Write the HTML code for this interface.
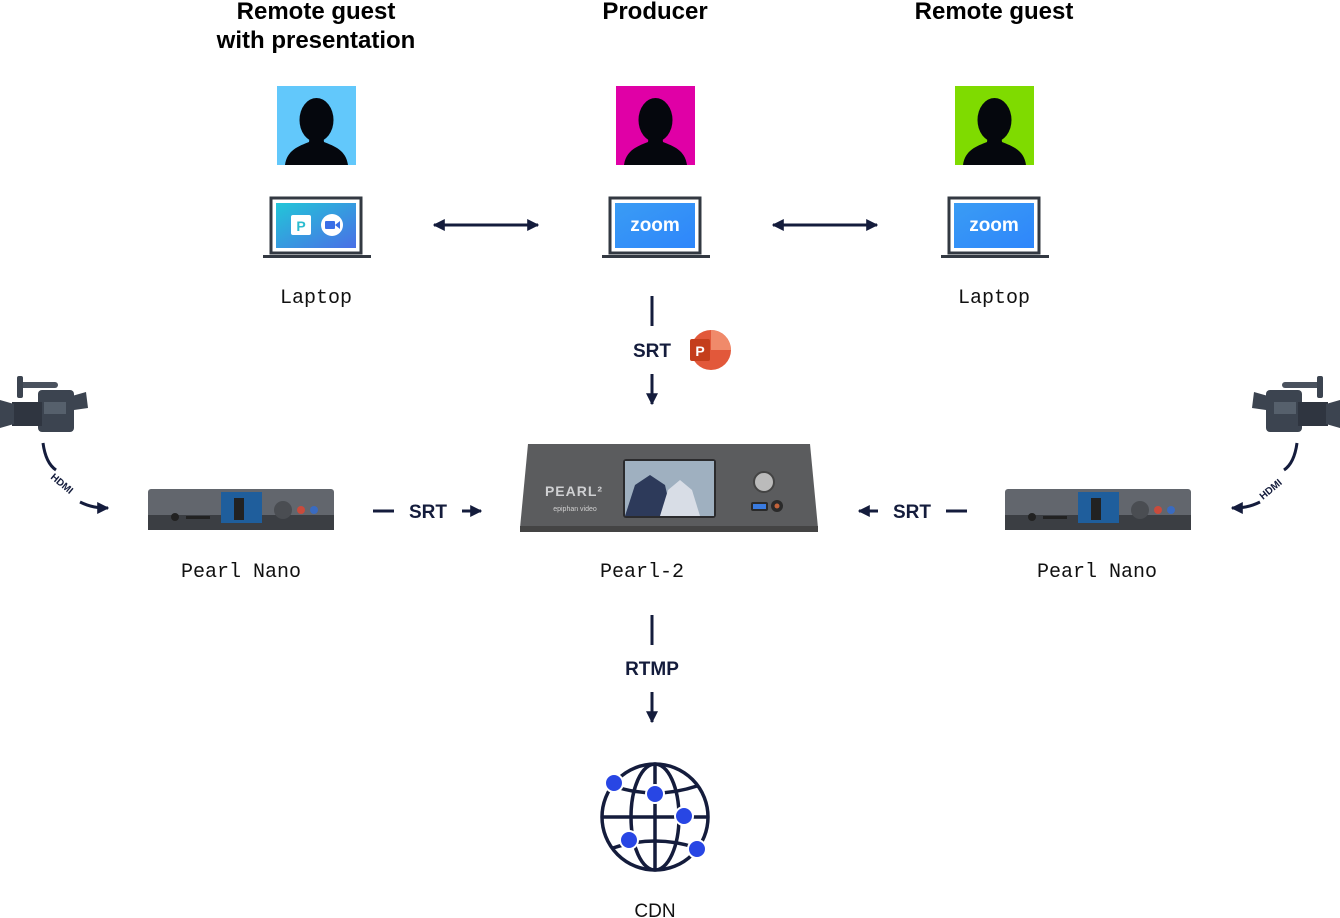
<!DOCTYPE html>
<html><head><meta charset="utf-8"><style>
html,body{margin:0;padding:0;background:#fff;}
svg{display:block}
.t{font-family:"Liberation Sans",sans-serif;font-weight:bold;font-size:24px;fill:#000;text-anchor:middle}
.m{font-family:"Liberation Mono",monospace;font-size:20px;fill:#111;text-anchor:middle}
.s{font-family:"Liberation Sans",sans-serif;font-weight:bold;font-size:19px;fill:#141c3c;text-anchor:middle}
</style></head><body>
<svg width="1340" height="918" viewBox="0 0 1340 918" xmlns="http://www.w3.org/2000/svg">
<defs>
<marker id="ah" viewBox="0 0 10 10" refX="9" refY="5" markerWidth="4" markerHeight="4" orient="auto-start-reverse"><path d="M0,0 L10,5 L0,10 z" fill="#141c3c"/></marker>
<linearGradient id="g1" x1="0" y1="0" x2="1" y2="1"><stop offset="0" stop-color="#22c6d8"/><stop offset="1" stop-color="#4a6fe6"/></linearGradient>
<linearGradient id="g2" x1="0" y1="0" x2="1" y2="1"><stop offset="0" stop-color="#3a9cf4"/><stop offset="1" stop-color="#2e86fb"/></linearGradient>
<g id="person"><ellipse cx="39.5" cy="34" rx="17" ry="22" fill="#05070d"/><path d="M8,79 C10,64 22,60 32,56 L33,48 L46,48 L47,56 C57,60 69,64 71,79 Z" fill="#05070d"/></g>
<g id="cam"><rect x="38" y="16" width="36" height="42" rx="4" fill="#3c4450"/><rect x="12" y="28" width="30" height="24" fill="#2f3540"/><path d="M0,26 L14,30 L14,50 L0,54 Z" fill="#3c4450"/><rect x="18" y="8" width="40" height="6" rx="3" fill="#4a525e"/><rect x="17" y="2" width="6" height="22" rx="2" fill="#3c4450"/><path d="M72,22 L86,18 L88,34 L74,36 Z" fill="#3c4450"/><rect x="44" y="28" width="22" height="12" fill="#56606c"/></g>
<g id="nano"><rect x="0" y="0" width="186" height="34" rx="3" fill="#62666d"/><rect x="0" y="26" width="186" height="15" fill="#3b3e43"/><rect x="73" y="3" width="41" height="31" fill="#1f5e9c"/><rect x="86" y="9" width="10" height="22" fill="#222"/><circle cx="27" cy="28" r="4" fill="#222"/><rect x="38" y="27" width="24" height="3" fill="#222"/><circle cx="135" cy="21" r="9" fill="#4a4d52"/><circle cx="153" cy="21" r="4" fill="#c94b3c"/><circle cx="166" cy="21" r="4" fill="#3a6bc0"/></g>
</defs>

<text class="t" x="316" y="19">Remote guest</text>
<text class="t" x="316" y="48">with presentation</text>
<text class="t" x="655" y="19">Producer</text>
<text class="t" x="994" y="19">Remote guest</text>

<rect x="277" y="86" width="79" height="79" fill="#62c8fb"/><use href="#person" x="277" y="86"/>
<rect x="616" y="86" width="79" height="79" fill="#e000a6"/><use href="#person" x="616" y="86"/>
<rect x="955" y="86" width="79" height="79" fill="#7fdb00"/><use href="#person" x="955" y="86"/>

<rect x="271" y="198" width="90" height="55" fill="#fff" stroke="#333942" stroke-width="3"/>
<rect x="276" y="203" width="80" height="45" fill="url(#g1)"/>
<rect x="263" y="255" width="108" height="3" fill="#333942"/>
<rect x="291" y="215" width="20" height="20" rx="2" fill="#fff"/><text x="301" y="231" font-family="Liberation Sans" font-weight="bold" font-size="14" fill="#2bbccf" text-anchor="middle">P</text>
<circle cx="332" cy="225" r="11" fill="#fff"/><rect x="325" y="221" width="10" height="8" rx="1" fill="#3a6fe6"/><path d="M335,225 L340,221 L340,229Z" fill="#3a6fe6"/>

<rect x="610" y="198" width="90" height="55" fill="#fff" stroke="#333942" stroke-width="3"/>
<rect x="615" y="203" width="80" height="45" fill="url(#g2)"/>
<rect x="602" y="255" width="108" height="3" fill="#333942"/>
<text x="655" y="231" font-family="Liberation Sans" font-weight="bold" font-size="19" fill="#fff" text-anchor="middle">zoom</text>

<rect x="949" y="198" width="90" height="55" fill="#fff" stroke="#333942" stroke-width="3"/>
<rect x="954" y="203" width="80" height="45" fill="url(#g2)"/>
<rect x="941" y="255" width="108" height="3" fill="#333942"/>
<text x="994" y="231" font-family="Liberation Sans" font-weight="bold" font-size="19" fill="#fff" text-anchor="middle">zoom</text>

<text class="m" x="316" y="303">Laptop</text>
<text class="m" x="994" y="303">Laptop</text>

<g stroke="#141c3c" stroke-width="3" fill="none">
<line x1="434" y1="225" x2="538" y2="225" marker-start="url(#ah)" marker-end="url(#ah)"/>
<line x1="773" y1="225" x2="877" y2="225" marker-start="url(#ah)" marker-end="url(#ah)"/>
<line x1="652" y1="296" x2="652" y2="326"/>
<line x1="652" y1="374" x2="652" y2="404" marker-end="url(#ah)"/>
<line x1="373" y1="511" x2="394" y2="511"/>
<line x1="462" y1="511" x2="481" y2="511" marker-end="url(#ah)"/>
<line x1="878" y1="511" x2="859" y2="511" marker-end="url(#ah)"/>
<line x1="946" y1="511" x2="967" y2="511"/>
<line x1="652" y1="615" x2="652" y2="645"/>
<line x1="652" y1="692" x2="652" y2="722" marker-end="url(#ah)"/>
<path d="M43,443 C45,458 50,466 56,470"/>
<path d="M80,502 C90,507 98,508 108,508" marker-end="url(#ah)"/>
<path d="M1297,443 C1295,458 1290,466 1284,470"/>
<path d="M1260,502 C1250,507 1242,508 1232,508" marker-end="url(#ah)"/>
</g>
<text x="0" y="0" font-family="Liberation Sans" font-weight="bold" font-size="10" fill="#141c3c" transform="translate(50,478) rotate(40)">HDMI</text>
<text x="0" y="0" font-family="Liberation Sans" font-weight="bold" font-size="10" fill="#141c3c" transform="translate(1263,500) rotate(-40)">HDMI</text>

<text class="s" x="652" y="357">SRT</text>
<circle cx="711" cy="350" r="20" fill="#e2583a"/><path d="M711,330 A20,20 0 0 1 731,350 L711,350Z" fill="#f08a6a"/>
<rect x="690" y="339" width="20" height="22" rx="2" fill="#c43e1c"/><text x="700" y="356" font-family="Liberation Sans" font-weight="bold" font-size="14" fill="#fff" text-anchor="middle">P</text>

<text class="s" x="428" y="518">SRT</text>
<text class="s" x="912" y="518">SRT</text>
<text class="s" x="652" y="675">RTMP</text>

<use href="#cam" x="0" y="374"/>
<use href="#cam" transform="translate(1340,374) scale(-1,1)"/>

<use href="#nano" x="148" y="489"/>
<use href="#nano" x="1005" y="489"/>
<text class="m" x="241" y="577">Pearl Nano</text>
<text class="m" x="1097" y="577">Pearl Nano</text>

<path d="M528,444 L810,444 L818,528 L520,528 Z" fill="#5b5c5e"/>
<rect x="520" y="526" width="298" height="6" fill="#444"/>
<rect x="623" y="459" width="93" height="59" rx="3" fill="#2b2b2d"/>
<rect x="625" y="461" width="89" height="55" fill="#9fb0c0"/>
<path d="M625,516 L635,485 L650,475 L665,485 L672,516Z" fill="#2d3a5a"/>
<path d="M660,516 L668,490 L680,480 L692,490 L700,516Z" fill="#d8dde6"/>
<text x="574" y="496" font-family="Liberation Sans" font-weight="bold" font-size="14" fill="#cfd0d2" text-anchor="middle" letter-spacing="1">PEARL²</text>
<text x="575" y="511" font-family="Liberation Sans" font-size="7" fill="#d0d0d0" text-anchor="middle">epiphan video</text>
<circle cx="764" cy="482" r="10" fill="#bbb" stroke="#444" stroke-width="2"/>
<rect x="751" y="502" width="17" height="9" rx="2" fill="#2a2a2a"/><rect x="753" y="504" width="13" height="5" fill="#3a7be0"/>
<circle cx="777" cy="506" r="6" fill="#2a2a2a"/><circle cx="777" cy="506" r="2.5" fill="#c2623a"/>
<text class="m" x="642" y="577">Pearl-2</text>

<g stroke="#141c3c" stroke-width="3.5" fill="none">
<circle cx="655" cy="817" r="53"/>
<ellipse cx="655" cy="817" rx="24" ry="53"/>
<line x1="655" y1="764" x2="655" y2="870"/>
<line x1="602" y1="817" x2="708" y2="817"/>
<path d="M613,786 Q655,800 697,786"/>
<path d="M613,848 Q655,834 697,848"/>
</g>
<g fill="#2846e4" stroke="#fff" stroke-width="2">
<circle cx="614" cy="783" r="9"/><circle cx="655" cy="794" r="9"/><circle cx="684" cy="816" r="9"/><circle cx="629" cy="840" r="9"/><circle cx="697" cy="849" r="9"/>
</g>
<text x="655" y="917" font-family="Liberation Sans" font-size="19" fill="#111" text-anchor="middle">CDN</text>
</svg>
</body></html>
